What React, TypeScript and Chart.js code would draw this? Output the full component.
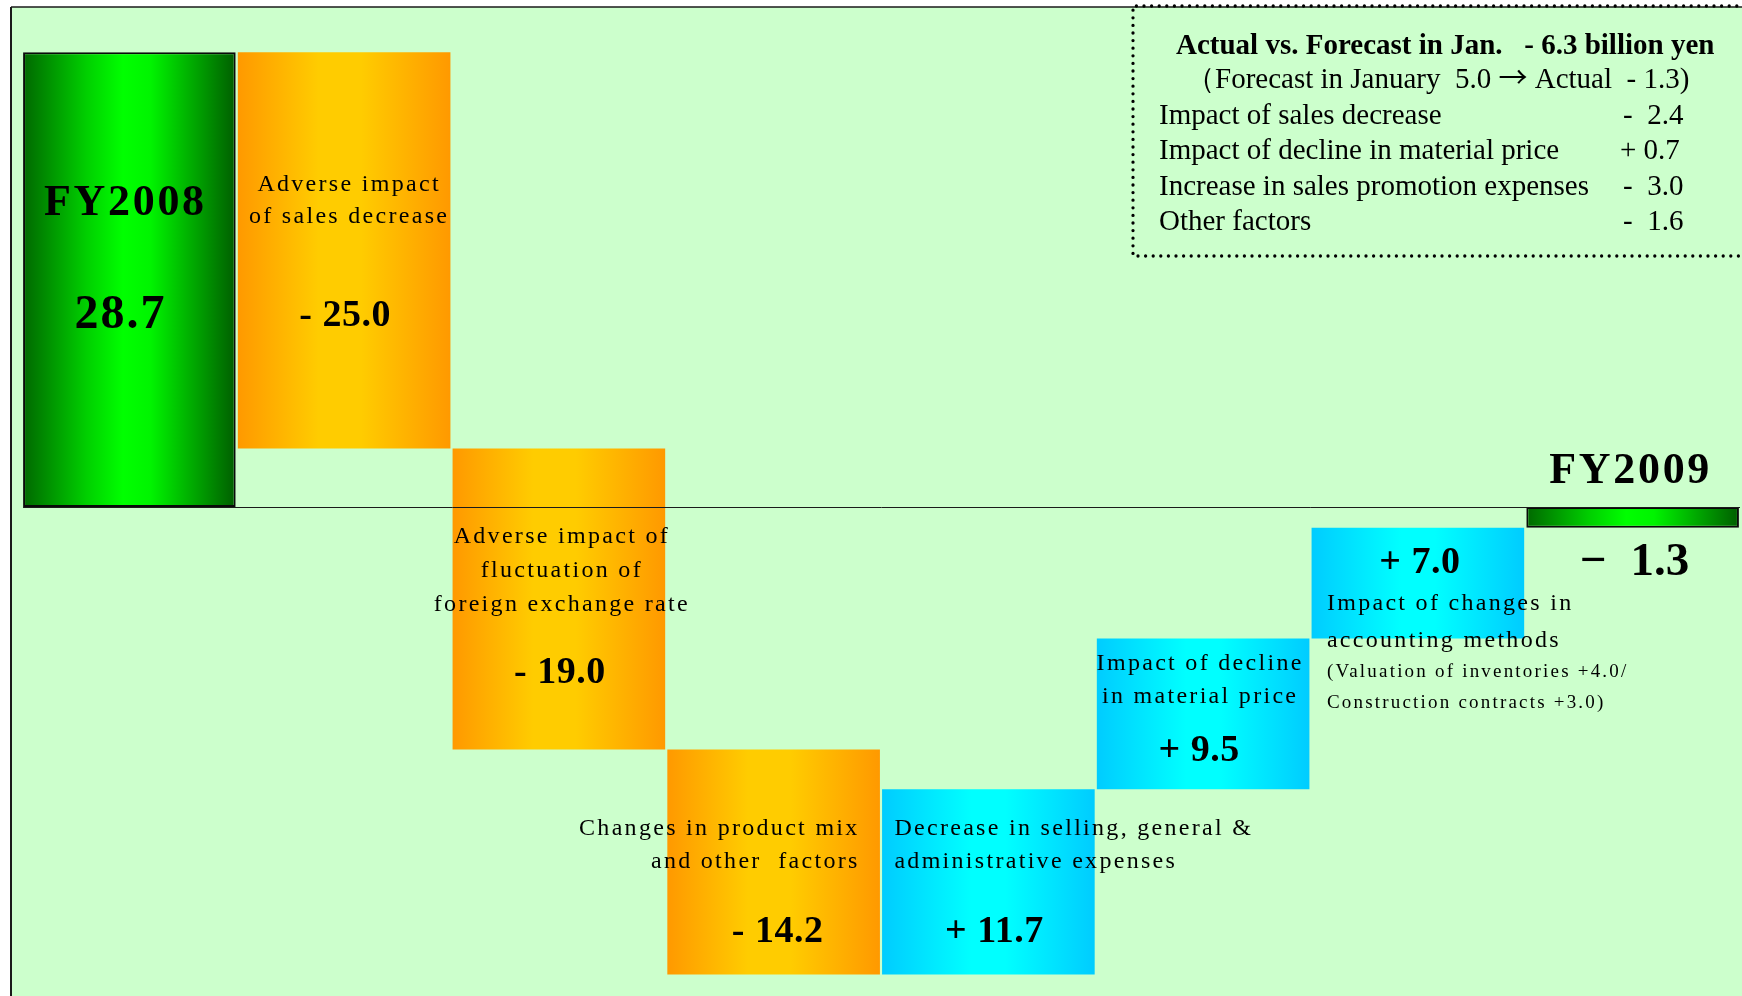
import React, { useEffect, useRef } from 'react';
import { Chart, registerables } from 'chart.js';

Chart.register(...registerables);

// ---------- data ----------
const categories = [
  'FY2008',
  'Adverse impact of sales decrease',
  'Adverse impact of fluctuation of foreign exchange rate',
  'Changes in product mix and other factors',
  'Decrease in selling, general & administrative expenses',
  'Impact of decline in material price',
  'Impact of changes in accounting methods',
  'FY2009',
];
const startTotal = 28.7;
const deltas = [-25.0, -19.0, -14.2, 11.7, 9.5, 7.0];
const endTotal = -1.3;

const nameLines: string[][] = [
  ['FY2008'],
  ['Adverse impact', 'of sales decrease'],
  ['Adverse impact of', 'fluctuation of', 'foreign exchange rate'],
  ['Changes in product mix', 'and other  factors'],
  ['Decrease in selling, general &', 'administrative expenses'],
  ['Impact of decline', 'in material price'],
  ['Impact of changes in', 'accounting methods'],
  ['FY2009'],
];
const noteLines = ['(Valuation of inventories +4.0/', 'Construction contracts +3.0)'];

const legendTitle = 'Actual vs. Forecast in Jan.   - 6.3 billion yen';
const legendSubParts = ['\uFF08Forecast in January  5.0 ', '\u2192', ' Actual  - 1.3)'];
const legendItems = [
  'Impact of sales decrease',
  'Impact of decline in material price',
  'Increase in sales promotion expenses',
  'Other factors',
];
const legendValues = ['-  2.4', '+ 0.7', '-  3.0', '-  1.6'];

// ---------- derived table for the library ----------
const r1 = (v: number) => Math.round(v * 10) / 10;
const floating: [number, number][] = [];
const kinds: string[] = [];
floating.push([0, startTotal]);
kinds.push('total');
let run = startTotal;
deltas.forEach((d) => {
  const next = r1(run + d);
  floating.push([run, next]);
  kinds.push(d < 0 ? 'neg' : 'pos');
  run = next;
});
floating.push([0, endTotal]);
kinds.push('total');
const valueTexts = [
  startTotal.toFixed(1),
  ...deltas.map((d) => (d < 0 ? '- ' : '+ ') + Math.abs(d).toFixed(1)),
  (endTotal < 0 ? '\u2212  ' : '+ ') + Math.abs(endTotal).toFixed(1),
];

// ---------- styling / layout ----------
const SERIF = '"Liberation Serif", "Times New Roman", serif';
const gradStops: Record<string, [number, string][]> = {
  total: [[0, '#006800'], [0.3, '#00D000'], [0.47, '#00FF00'], [0.6, '#00F400'], [1, '#005E00']],
  neg: [[0, '#FF9900'], [0.38, '#FFCC00'], [0.58, '#FFCC00'], [1, '#FF9900']],
  pos: [[0, '#00CCFF'], [0.42, '#00FFFF'], [0.58, '#00FFFF'], [1, '#00CCFF']],
};

type LabelLayout = {
  nameFont: string;
  nameSpacing: number;
  nameAlign: CanvasTextAlign;
  nameDx: number;
  nameDy: number[];
  valueFont: string;
  valueSpacing: number;
  valueDx: number;
  valueDy: number;
};
const small = `24px ${SERIF}`;
const valFont = `bold 38px ${SERIF}`;
const layout: LabelLayout[] = [
  { nameFont: `bold 44px ${SERIF}`, nameSpacing: 2.7, nameAlign: 'center', nameDx: -4, nameDy: [163], valueFont: `bold 48px ${SERIF}`, valueSpacing: 2, valueDx: -9, valueDy: 276 },
  { nameFont: small, nameSpacing: 2.3, nameAlign: 'center', nameDx: 5, nameDy: [139, 171], valueFont: valFont, valueSpacing: 0.5, valueDx: 1, valueDy: 274 },
  { nameFont: small, nameSpacing: 2.3, nameAlign: 'center', nameDx: 3, nameDy: [95, 129, 163], valueFont: valFont, valueSpacing: 0.5, valueDx: 1, valueDy: 235 },
  { nameFont: small, nameSpacing: 2.3, nameAlign: 'right', nameDx: 86, nameDy: [85, 118], valueFont: valFont, valueSpacing: 0.5, valueDx: 4, valueDy: 192 },
  { nameFont: small, nameSpacing: 2.3, nameAlign: 'left', nameDx: -94, nameDy: [46, 79], valueFont: valFont, valueSpacing: 0.5, valueDx: 6, valueDy: 153 },
  { nameFont: small, nameSpacing: 2.3, nameAlign: 'center', nameDx: -3, nameDy: [31, 64], valueFont: valFont, valueSpacing: 0.5, valueDx: -4, valueDy: 122 },
  { nameFont: small, nameSpacing: 2.3, nameAlign: 'left', nameDx: -91, nameDy: [82, 119], valueFont: valFont, valueSpacing: 0.5, valueDx: 2, valueDy: 45 },
  { nameFont: `bold 44px ${SERIF}`, nameSpacing: 2.7, nameAlign: 'center', nameDx: -2, nameDy: [-24], valueFont: `bold 47px ${SERIF}`, valueSpacing: 0, valueDx: 2, valueDy: 68 },
];
const noteLayout = { barIndex: 6, font: `19px ${SERIF}`, spacing: 2.2, dx: -91, dy: [149, 180] };

const setSpacing = (ctx: any, px: number) => {
  try {
    ctx.letterSpacing = px + 'px';
  } catch (e) {}
};

const backgroundPlugin = {
  id: 'panelBackground',
  beforeDraw(chart: any) {
    const { ctx, width, height } = chart;
    ctx.save();
    ctx.fillStyle = '#ffffff';
    ctx.fillRect(0, 0, width, height);
    ctx.fillStyle = '#CCFFCC';
    ctx.fillRect(11, 7, width - 11, height - 7);
    ctx.strokeStyle = '#1a1a1a';
    ctx.lineWidth = 1.5;
    ctx.beginPath();
    ctx.moveTo(11, 7);
    ctx.lineTo(width, 7);
    ctx.stroke();
    ctx.lineWidth = 2;
    ctx.beginPath();
    ctx.moveTo(11, 7);
    ctx.lineTo(11, height);
    ctx.stroke();
    ctx.restore();
  },
};

const labelsPlugin = {
  id: 'waterfallLabels',
  afterDatasetsDraw(chart: any) {
    const { ctx, width } = chart;
    const xs = chart.scales.x;
    const ys = chart.scales.y;
    ctx.save();
    // zero line
    const y0 = Math.round(ys.getPixelForValue(0)) + 0.5;
    const firstBar = chart.getDatasetMeta(0).data[0];
    ctx.strokeStyle = '#1a1a1a';
    ctx.lineWidth = 1;
    ctx.beginPath();
    ctx.moveTo(firstBar.x - firstBar.width / 2, y0);
    ctx.lineTo(xs.right, y0);
    ctx.stroke();

    ctx.fillStyle = '#000';
    ctx.textBaseline = 'alphabetic';
    floating.forEach((pair, i) => {
      const cx = xs.getPixelForValue(i);
      const top = ys.getPixelForValue(Math.max(pair[0], pair[1]));
      const L = layout[i];
      ctx.font = L.nameFont;
      setSpacing(ctx, L.nameSpacing);
      ctx.textAlign = L.nameAlign;
      nameLines[i].forEach((line, k) => {
        ctx.fillText(line, cx + L.nameDx, top + L.nameDy[k]);
      });
      ctx.font = L.valueFont;
      setSpacing(ctx, L.valueSpacing);
      ctx.textAlign = 'center';
      ctx.fillText(valueTexts[i], cx + L.valueDx, top + L.valueDy);
      if (i === noteLayout.barIndex) {
        ctx.font = noteLayout.font;
        setSpacing(ctx, noteLayout.spacing);
        ctx.textAlign = 'left';
        noteLines.forEach((line, k) => {
          ctx.fillText(line, cx + noteLayout.dx, top + noteLayout.dy[k]);
        });
      }
    });
    setSpacing(ctx, 0);

    // comment box with dotted frame
    ctx.strokeStyle = '#000';
    ctx.lineWidth = 3.3;
    ctx.lineCap = 'round';
    ctx.setLineDash([0, 7.6]);
    ctx.beginPath();
    ctx.moveTo(width + 10, 6);
    ctx.lineTo(1133, 6);
    ctx.lineTo(1133, 256);
    ctx.lineTo(width + 10, 256);
    ctx.stroke();
    ctx.setLineDash([]);

    ctx.fillStyle = '#000';
    ctx.textAlign = 'left';
    ctx.font = `bold 29px ${SERIF}`;
    ctx.fillText(legendTitle, 1176, 54);
    // sub line, arrow drawn in a font with a long arrow glyph
    let sx = 1186;
    ctx.font = `29px ${SERIF}`;
    ctx.fillText(legendSubParts[0], sx, 88);
    sx += ctx.measureText(legendSubParts[0]).width;
    ctx.font = `29px "Noto Sans CJK JP", ${SERIF}`;
    ctx.fillText(legendSubParts[1], sx, 88);
    sx += ctx.measureText(legendSubParts[1]).width;
    ctx.font = `29px ${SERIF}`;
    ctx.fillText(legendSubParts[2], sx, 88);
    const base = [123.5, 159, 194.5, 230];
    legendItems.forEach((t, k) => {
      ctx.fillText(t, 1159, base[k]);
      ctx.fillText(legendValues[k], legendValues[k].startsWith('+') ? 1620 : 1623, base[k]);
    });
    ctx.restore();
  },
};

export default function App() {
  const ref = useRef<HTMLCanvasElement>(null);
  useEffect(() => {
    if (!ref.current) return;
    const chart = new Chart(ref.current, {
      type: 'bar',
      data: {
        labels: categories,
        datasets: [
          {
            data: floating as any,
            backgroundColor: (c: any) => {
              const ch = c.chart;
              const xs = ch.scales && ch.scales.x;
              const kind = kinds[c.dataIndex] || 'neg';
              if (!xs || !ch.chartArea || c.dataIndex === undefined) return gradStops[kind][1][1];
              const cx = xs.getPixelForValue(c.dataIndex);
              const half = ((xs.right - xs.left) / categories.length) * 0.99 / 2;
              const g = ch.ctx.createLinearGradient(cx - half, 0, cx + half, 0);
              gradStops[kind].forEach(([o, col]) => g.addColorStop(o, col));
              return g;
            },
            borderColor: (c: any) => (kinds[c.dataIndex] === 'total' ? '#0a0a0a' : 'rgba(0,0,0,0)'),
            borderWidth: (c: any) => (kinds[c.dataIndex] === 'total' ? 2 : 0),
            borderSkipped: false,
            barPercentage: 1,
            categoryPercentage: 0.99,
          } as any,
        ],
      },
      options: {
        responsive: false,
        maintainAspectRatio: false,
        animation: false,
        devicePixelRatio: 1,
        layout: { padding: { left: 22, right: 2, top: 7, bottom: 0 } },
        scales: {
          x: { display: false, offset: true },
          y: { display: false, min: -30.85, max: 31.55 },
        },
        plugins: {
          legend: { display: false },
          tooltip: { enabled: false },
        },
      },
      plugins: [backgroundPlugin, labelsPlugin],
    });
    return () => chart.destroy();
  }, []);
  return (
    <div style={{ position: 'fixed', left: 0, top: 0, width: 1742, height: 996, background: '#fff', overflow: 'hidden' }}>
      <canvas ref={ref} width={1742} height={996} style={{ display: 'block', width: 1742, height: 996 }} />
    </div>
  );
}
